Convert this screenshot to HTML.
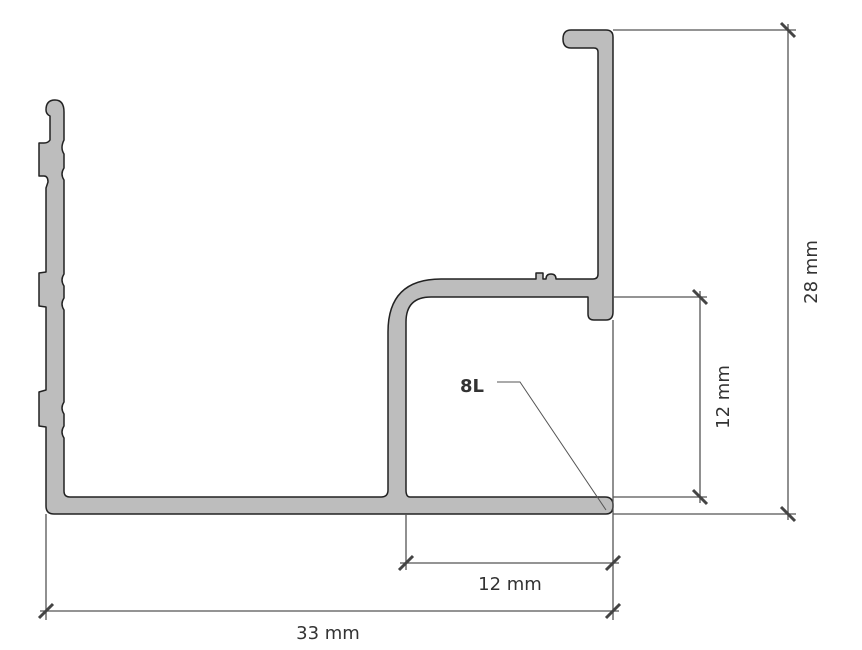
<!DOCTYPE html>
<html><head><style>html,body{margin:0;padding:0;background:#fff}svg{display:block}</style></head>
<body>
<svg width="862" height="650" viewBox="0 0 862 650" xmlns="http://www.w3.org/2000/svg">
<path fill="#bdbdbd" stroke="#222" stroke-width="1.5" stroke-linejoin="round" d="
M46 506 Q46 514 54 514 L606 514 Q613 514 613 506 L613 505 Q613 497 605 497 L410 497 Q406 497 406 490 L406 322 Q406 297 431 297 L588 297 L588 314 Q588 320 594 320 L606 320 Q613 320 613 312
L613 37 Q613 30 606 30 L571 30 Q563 30 563 39 Q563 48 571 48 L594 48 Q598 48 598 52 L598 274 Q598 279 593 279 L556 279 Q556 274 551 274 Q546 274 546 279 L543 279 L543 273 L536 273 L536 279 L441 279 Q388 279 388 332 L388 490 Q388 497 381 497 L70 497 Q64 497 64 491
L64 438 Q60 432 64 426 L64 414 Q60 408 64 402 L64 310 Q60 304 64 298 L64 286 Q60 280 64 274 L64 180 Q60 174 64 168 L64 154 Q60 148 64 140 L64 112 Q64 100 55 100 Q46 100 46 110 Q46 114 50 116 L50 140 Q48 143 44 143 L39 143 L39 176 L44 176 Q48 176 48 182 L46 188
L46 272 L39 273 L39 306 L46 307 L46 390 L39 392 L39 426 L46 427 Z"/>
<g stroke="#555" stroke-width="1.3" fill="none">
<line x1="613" y1="30" x2="796" y2="30"/>
<line x1="613" y1="514" x2="796" y2="514"/>
<line x1="788" y1="24" x2="788" y2="520"/>
<line x1="613" y1="297" x2="707" y2="297"/>
<line x1="613" y1="497" x2="707" y2="497"/>
<line x1="700" y1="291" x2="700" y2="503"/>
<line x1="613" y1="320" x2="613" y2="620"/>
<line x1="406" y1="514" x2="406" y2="570"/>
<line x1="46" y1="514" x2="46" y2="620"/>
<line x1="400" y1="563" x2="619" y2="563"/>
<line x1="40" y1="611" x2="619" y2="611"/>
<polyline points="497,382 520,382 606,510" stroke-width="1"/>
</g>
<g stroke="#444" stroke-width="3">
<line x1="781" y1="23" x2="795" y2="37"/>
<line x1="781" y1="507" x2="795" y2="521"/>
<line x1="693" y1="290" x2="707" y2="304"/>
<line x1="693" y1="490" x2="707" y2="504"/>
<line x1="399" y1="570" x2="413" y2="556"/>
<line x1="606" y1="570" x2="620" y2="556"/>
<line x1="39" y1="618" x2="53" y2="604"/>
<line x1="606" y1="618" x2="620" y2="604"/>
</g>
<g font-family="DejaVu Sans, Liberation Sans, sans-serif" font-size="18" fill="#333">
<text x="510" y="590" text-anchor="middle">12 mm</text>
<text x="328" y="639" text-anchor="middle">33 mm</text>
<text transform="translate(817,272) rotate(-90)" text-anchor="middle">28 mm</text>
<text transform="translate(729,397) rotate(-90)" text-anchor="middle">12 mm</text>
<text x="472" y="392" text-anchor="middle" font-weight="bold">8L</text>
</g>
</svg>
</body></html>
